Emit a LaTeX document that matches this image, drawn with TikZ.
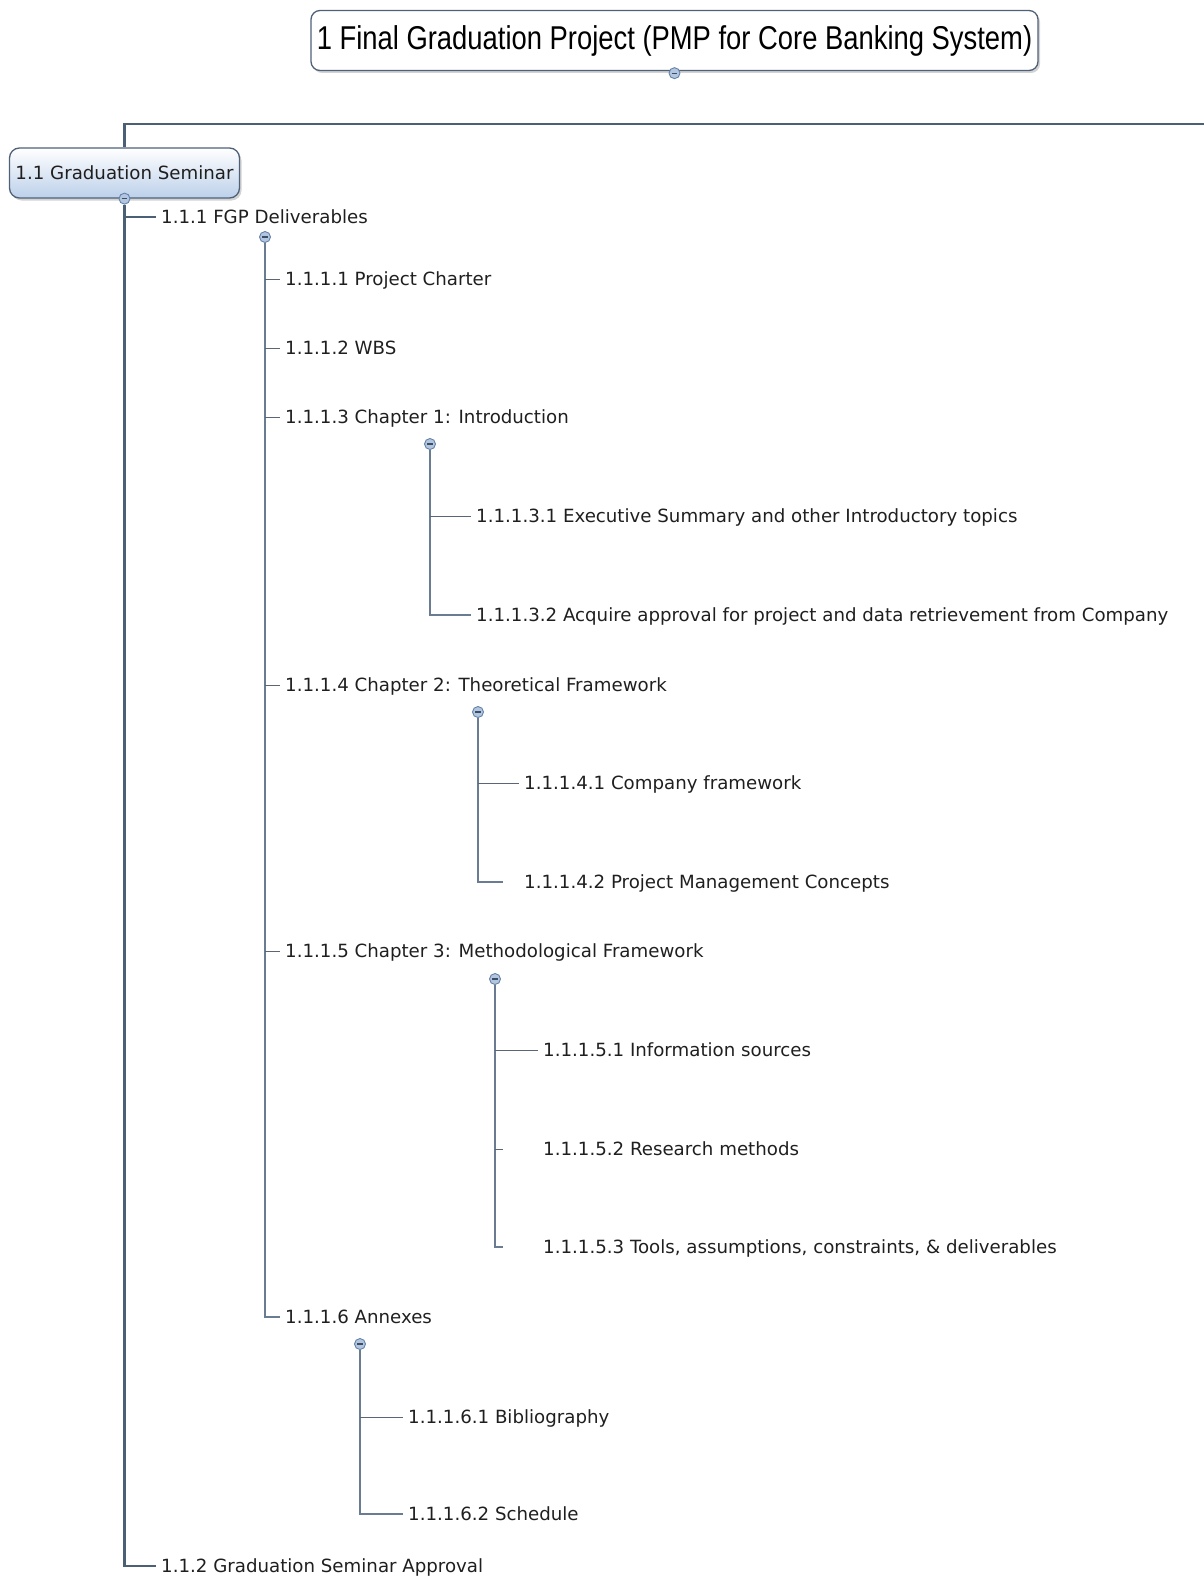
\documentclass[tikz,border=0pt]{standalone}
\usepackage{fontspec}
\setmainfont{DejaVu Sans}
\newfontfamily\titlefont[FakeStretch=0.83]{Liberation Sans}
\usetikzlibrary{shadows}
\definecolor{trunkc}{HTML}{4B5F75}
\definecolor{branchc}{HTML}{6A7C92}
\definecolor{leafc}{HTML}{5A6678}
\definecolor{boxedge}{HTML}{4E6178}
\definecolor{boxfill}{HTML}{BCD0EA}
\definecolor{knobfill}{HTML}{B3C6E0}
\definecolor{knobedge}{HTML}{6482A8}
\pgfdeclarelayer{bg}
\pgfsetlayers{bg,main}

\begin{document}
\begin{tikzpicture}[x=1pt,y=-1pt,
  lbl/.style={anchor=west, inner xsep=5pt, inner ysep=0pt, text height=13pt,
    text depth=0pt, font=\fontsize{18.2}{20}\selectfont, text=black!88},
  knob/.style={circle, draw=knobedge, fill=knobfill, line width=0.9pt,
    minimum size=11pt, inner sep=0pt,
    path picture={\draw[line width=1.2pt, draw=knobedge!60!black]
      ([xshift=-2.8pt]path picture bounding box.center) --
      ([xshift=2.8pt]path picture bounding box.center);}},
  titlebox/.style={draw=boxedge, line width=1.3pt, rounded corners=9pt, fill=white,
    minimum width=727pt, minimum height=60pt, inner sep=0pt,
    drop shadow={opacity=0.35, shadow xshift=2pt, shadow yshift=-2.5pt}},
  gsbox/.style={draw=boxedge, line width=1.3pt, rounded corners=10pt,
    top color=white, bottom color=boxfill, minimum width=230pt,
    minimum height=50pt, inner sep=0pt, font=\fontsize{18.2}{20}\selectfont,
    text=black!88,
    drop shadow={opacity=0.35, shadow xshift=2pt, shadow yshift=-2.5pt}},
  trunk/.style={draw=trunkc, line width=2.6pt},
  twig/.style={draw=trunkc, line width=2pt},
  branch/.style={draw=branchc, line width=1.3pt},
  leaf/.style={draw=leafc, line width=1pt},
]
\useasboundingbox (0,0) rectangle (1203,1579);

% root and first level
\node[titlebox] (root) at (674.5,40.5)
  {\titlefont\fontsize{33}{36}\selectfont 1 Final Graduation Project (PMP for Core Banking System)};
\node[knob] (rk) at ([yshift=-2pt]root.south) {};
\node[gsbox] (gs) at (124.5,173) {1.1 Graduation Seminar};
\node[knob] (gsk) at (gs.south) {};

% second level
\node[lbl] (n111) at (156,217) {1.1.1 FGP Deliverables};
\node[knob] (k111) at (265,237) {};
\node[lbl] (n112) at (156,1566) {1.1.2 Graduation Seminar Approval};

% third level
\node[lbl] (n1111) at (280,279) {1.1.1.1 Project Charter};
\node[lbl] (n1112) at (280,348) {1.1.1.2 WBS};
\node[lbl] (n1113) at (280,417) {1.1.1.3 Chapter 1: Introduction};
\node[lbl] (n1114) at (280,685) {1.1.1.4 Chapter 2: Theoretical Framework};
\node[lbl] (n1115) at (280,951) {1.1.1.5 Chapter 3: Methodological Framework};
\node[lbl] (n1116) at (280,1317) {1.1.1.6 Annexes};

% chapter 1
\node[knob] (k1113) at (430,444) {};
\node[lbl] (n11131) at (471,516) {1.1.1.3.1 Executive Summary and other Introductory topics};
\node[lbl] (n11132) at (471,615) {1.1.1.3.2 Acquire approval for project and data retrievement from Company};

% chapter 2
\node[knob] (k1114) at (478,712) {};
\node[lbl] (n11141) at (519,783) {1.1.1.4.1 Company framework};
\node[lbl] (n11142) at (519,882) {1.1.1.4.2 Project Management Concepts};
\coordinate (e11142) at (503,882);

% chapter 3
\node[knob] (k1115) at (495,979) {};
\node[lbl] (n11151) at (538,1050) {1.1.1.5.1 Information sources};
\node[lbl] (n11152) at (538,1149) {1.1.1.5.2 Research methods};
\node[lbl] (n11153) at (538,1247) {1.1.1.5.3 Tools, assumptions, constraints, \& deliverables};
\coordinate (e11152) at (503,1149);
\coordinate (e11153) at (503,1247);

% annexes
\node[knob] (k1116) at (360,1344) {};
\node[lbl] (n11161) at (403,1417) {1.1.1.6.1 Bibliography};
\node[lbl] (n11162) at (403,1514) {1.1.1.6.2 Schedule};

\coordinate (edge) at (1215,124);

\begin{pgfonlayer}{bg}
  % main trunk
  \draw[trunk] (edge) -| (gs.north);
  \draw[trunk] (gsk) |- (n112.west);
  \draw[twig] (gsk |- n111.west) -- (n111.west);
  % deliverables
  \draw[branch] (k111) |- (n1116.west);
  \foreach \n in {n1111,n1112,n1113,n1114,n1115}
    \draw[leaf] (k111 |- \n.west) -- (\n.west);
  % chapter 1
  \draw[branch] (k1113) |- (n11132.west);
  \draw[leaf] (k1113 |- n11131.west) -- (n11131.west);
  % chapter 2
  \draw[branch] (k1114) |- (e11142);
  \draw[leaf] (k1114 |- n11141.west) -- (n11141.west);
  % chapter 3
  \draw[branch] (k1115) |- (e11153);
  \draw[leaf] (k1115 |- n11151.west) -- (n11151.west);
  \draw[leaf] (k1115 |- e11152) -- (e11152);
  % annexes
  \draw[branch] (k1116) |- (n11162.west);
  \draw[leaf] (k1116 |- n11161.west) -- (n11161.west);
\end{pgfonlayer}
\end{tikzpicture}
\end{document}
